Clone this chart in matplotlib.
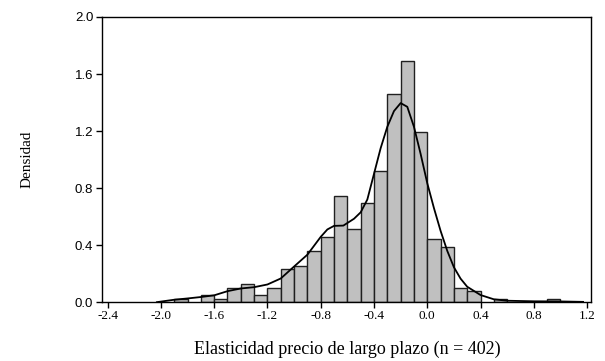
import matplotlib
matplotlib.use('Agg')
import matplotlib.pyplot as plt

# histogram (bin left edges, density), bin width 0.1
bin_left = [-1.9, -1.7, -1.6, -1.5, -1.4, -1.3, -1.2, -1.1, -1.0, -0.9,
            -0.8, -0.7, -0.6, -0.5, -0.4, -0.3, -0.2, -0.1, 0.0, 0.1,
            0.2, 0.3, 0.5, 0.9]
density = [0.025, 0.05, 0.025, 0.10, 0.125, 0.05, 0.10, 0.23, 0.255, 0.36,
           0.46, 0.745, 0.515, 0.695, 0.92, 1.46, 1.69, 1.19, 0.44, 0.385,
           0.10, 0.08, 0.025, 0.025]

# kernel density curve
kde_x = [-2.03, -1.9, -1.8, -1.7, -1.6, -1.5, -1.4, -1.3, -1.2, -1.1,
         -1.0, -0.9, -0.8, -0.75, -0.7, -0.63, -0.55, -0.5, -0.45, -0.4,
         -0.35, -0.3, -0.25, -0.2, -0.15, -0.1, -0.05, 0.0, 0.05, 0.1,
         0.15, 0.2, 0.25, 0.3, 0.4, 0.5, 0.6, 0.8, 1.0, 1.17]
kde_y = [0.0, 0.017, 0.026, 0.036, 0.048, 0.077, 0.096, 0.105, 0.124, 0.166,
         0.25, 0.333, 0.458, 0.51, 0.535, 0.537, 0.585, 0.63, 0.72, 0.90,
         1.08, 1.23, 1.34, 1.396, 1.37, 1.23, 1.04, 0.834, 0.66, 0.50,
         0.36, 0.245, 0.165, 0.108, 0.05, 0.02, 0.01, 0.006, 0.005, 0.002]

xticks = [-2.4, -2.0, -1.6, -1.2, -0.8, -0.4, 0.0, 0.4, 0.8, 1.2]
yticks = [0.0, 0.4, 0.8, 1.2, 1.6, 2.0]

fig = plt.figure(figsize=(6.05, 3.61), dpi=100)
ax = fig.add_axes([0.168, 0.163, 0.809, 0.79])

ax.bar(bin_left, density, width=0.1, align='edge', color='#c0c0c0',
       edgecolor='#202020', linewidth=1.0)
ax.plot(kde_x, kde_y, color='black', linewidth=1.3)

ax.set_xlim(-2.445, 1.23)
ax.set_ylim(0, 2.0)
ax.set_xticks(xticks)
ax.set_xticklabels(['%.1f' % t for t in xticks], family='Liberation Serif', fontsize=9.5)
ax.set_yticks(yticks)
ax.set_yticklabels(['%.1f' % t for t in yticks], family='Liberation Sans', fontsize=9.5)
ax.tick_params(direction='out', length=4, width=1, pad=2)
for s in ax.spines.values():
    s.set_linewidth(1.0)

fig.text(27 / 605, 1 - 159 / 361, 'Densidad', rotation=90, ha='center', va='center',
         family='Liberation Serif', fontsize=11)
fig.text(347 / 605, 1 - 349 / 361, 'Elasticidad precio de largo plazo (n = 402)',
         ha='center', va='center', family='Liberation Serif', fontsize=13)

fig.savefig('out.png', dpi=100)
